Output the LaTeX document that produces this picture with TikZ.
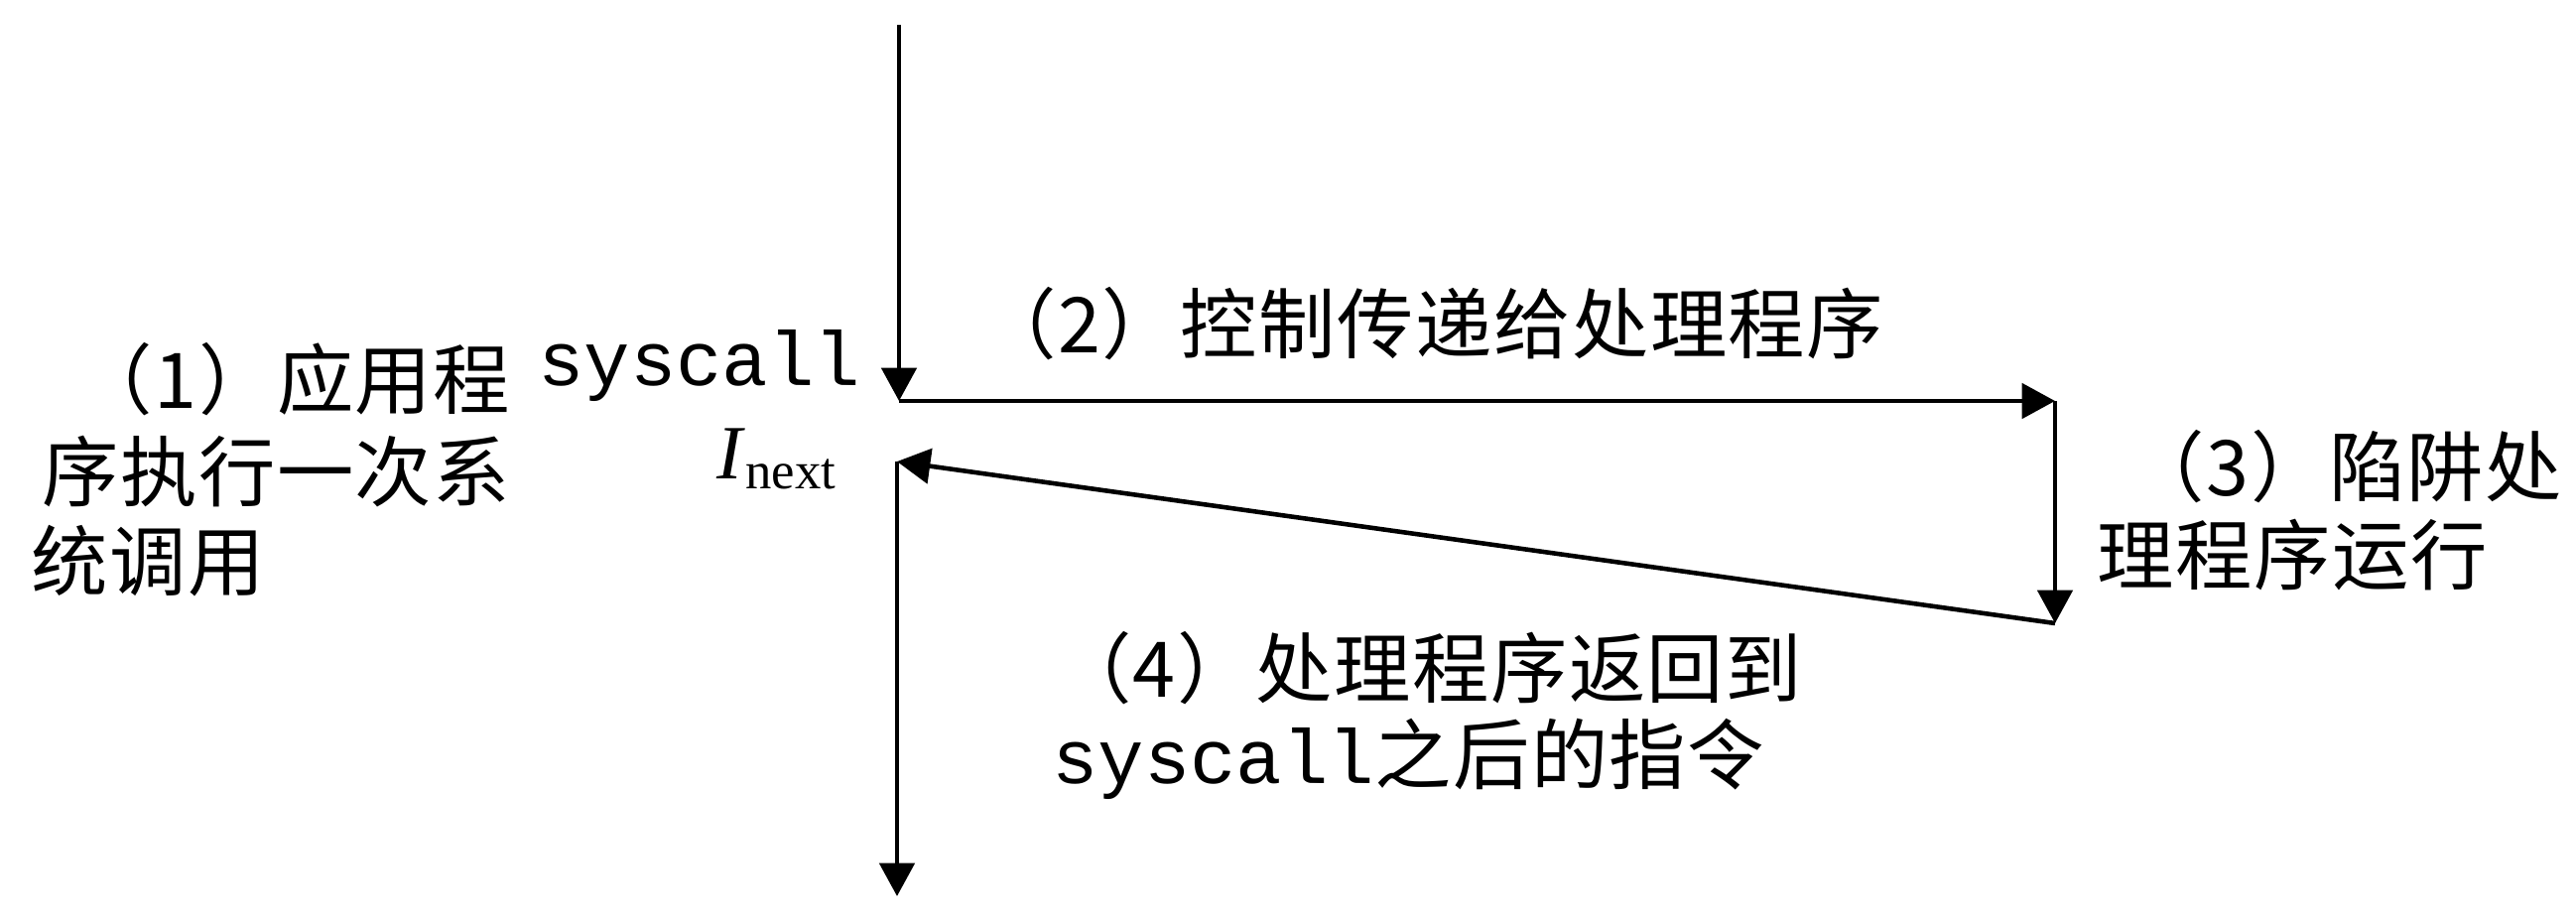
\documentclass[tikz,border=0pt]{standalone}
\usepackage{fontspec}
\setmainfont{Liberation Serif}
\setmonofont{Liberation Mono}
\newfontfamily\cjk[LetterSpace=2]{Noto Sans CJK SC}
\usetikzlibrary{arrows.meta}
\begin{document}
\begin{tikzpicture}[x=0.01cm,y=-0.01cm,
  arr/.style={line width=1.3pt,-{Triangle[length=9.5pt,width=10pt]}},
  lbl/.style={inner sep=0pt,font=\fontsize{22pt}{26pt}\selectfont\cjk}]
\useasboundingbox (0,0) rectangle (2596,930);
% corners
\coordinate (top) at (906,25);
\coordinate (sys) at (906,404);
\coordinate (hr) at (2071,404);
\coordinate (br) at (2071,628);
\coordinate (nx) at (904,465);
\coordinate (bot) at (904,903);
% connectors
\draw[arr] (top) -- (sys);
\draw[arr] (sys) -- (hr);
\draw[arr] (hr) -- (br);
\draw[arr] (br) -- (nx);
\draw[arr] (nx) -- (bot);
% labels
\node[lbl,anchor=base east] (sc) at (868,388) {\ttfamily syscall};
\node[inner sep=0pt,anchor=base west] (in) at (722,482)
  {\fontsize{22pt}{26pt}\selectfont\textit{I}\raisebox{-3.1pt}{\fontsize{15pt}{18pt}\selectfont next}};
\node[lbl,anchor=base east] (l1a) at (515,411) {（1）应用程};
\node[lbl,anchor=base east] (l1b) at (515,504) {序执行一次系};
\node[lbl,anchor=base west] (l1c) at (31,594) {统调用};
\node[lbl,anchor=base east] (l2) at (1899,355) {（2）控制传递给处理程序};
\node[lbl,anchor=base east] (l3a) at (2583,499) {（3）陷阱处};
\node[lbl,anchor=base west] (l3b) at (2113,588) {理程序运行};
\node[lbl,anchor=base east] (l4a) at (1817,702) {（4）处理程序返回到};
\node[lbl,anchor=base east] (l4b) at (1779,789) {{\ttfamily syscall}之后的指令};
\end{tikzpicture}
\end{document}
